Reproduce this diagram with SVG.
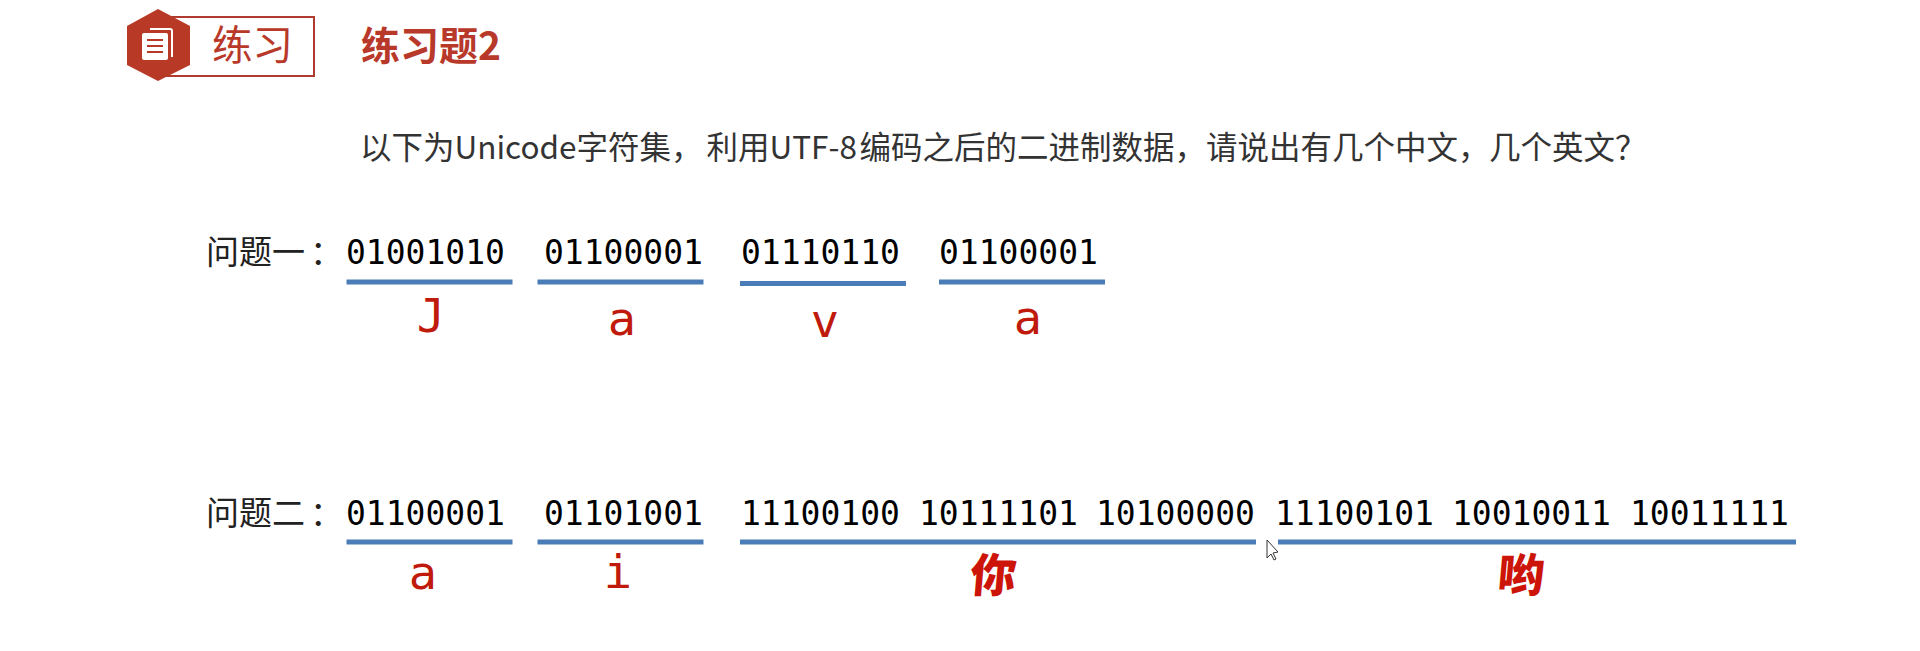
<svg xmlns="http://www.w3.org/2000/svg" width="1920" height="651" viewBox="0 0 1920 651">
<style>
.cn{font-family:"Noto Sans CJK SC","Noto Sans",sans-serif}
.bin{font-family:"DejaVu Sans Mono","Liberation Mono",monospace;font-size:33px;fill:#000}
.q{font-size:33px;fill:#222}
.ans{font-family:"DejaVu Sans Mono",monospace;font-size:47px;fill:#c01a0c;text-anchor:middle}
.brush{font-family:"Noto Sans CJK SC",sans-serif;font-weight:900;font-size:46px;fill:#cc1408;text-anchor:middle}
.bar{fill:#4a7db8}
</style>
<rect width="1920" height="651" fill="#fff"/>
<g id="badge">
<rect x="165" y="17" width="149" height="59" fill="#fff" stroke="#b03a2e" stroke-width="2"/>
<polygon points="158,9 190,26 190,65 158,81 127,65 127,26" fill="#b83a26"/>
<path d="M150 28h20a3 3 0 0 1 3 3v26h-2V31q0-1-1-1h-20z" fill="#fff"/>
<rect x="142" y="33" width="26" height="27" rx="2" fill="#fff"/>
<path d="M147 40h16M147 46h16M147 52h16" stroke="#b83a26" stroke-width="2" fill="none"/>
<text class="cn" x="212" y="60" font-size="40.5" fill="#b8392a">练习</text>
</g>
<g id="title"><text class="cn" x="361" y="60" font-size="39" font-weight="700" fill="#b8392a">练习题2</text></g>
<g id="prompt"><text class="cn" y="159" font-size="31.5" fill="#333"><tspan x="360">以下为Unicode字符集，</tspan><tspan x="706.5">利用UTF-8</tspan><tspan x="859.6">编码之后的二进制数据，</tspan><tspan x="1206">请说出有几个中文，</tspan><tspan x="1489">几个英文？</tspan></text></g>
<g id="q1">
<text class="cn q" x="206" y="264">问题一</text>
<text class="cn q" x="310" y="264">：</text>
<text class="bin" x="346" y="264">01001010</text>
<text class="bin" x="544" y="264">01100001</text>
<text class="bin" x="741" y="264">01110110</text>
<text class="bin" x="939" y="264">01100001</text>
</g>
<g id="a1">
<text class="ans" x="431" y="332">J</text>
<text class="ans" x="622" y="335">a</text>
<text class="ans" x="825" y="337">v</text>
<text class="ans" x="1028" y="334">a</text>
</g>
<g id="q2">
<text class="cn q" x="206" y="525">问题二</text>
<text class="cn q" x="310" y="525">：</text>
<text class="bin" x="346" y="525">01100001</text>
<text class="bin" x="544" y="525">01101001</text>
<text class="bin" x="741" y="525">11100100</text>
<text class="bin" x="919" y="525">10111101</text>
<text class="bin" x="1096" y="525">10100000</text>
<text class="bin" x="1275" y="525">11100101</text>
<text class="bin" x="1452" y="525">10010011</text>
<text class="bin" x="1630" y="525">10011111</text>
</g>
<g id="a2">
<text class="ans" x="423" y="589">a</text>
<text class="ans" x="618" y="588">i</text>
<text class="brush" transform="translate(992 592) skewX(-5)">你</text>
<text class="brush" transform="translate(1520 592) skewX(-5)">哟</text>
</g>
<g id="connectors">
<rect class="bar" x="346.5" y="279.5" width="166" height="5"/>
<rect class="bar" x="537.5" y="279.5" width="166" height="5"/>
<rect class="bar" x="740" y="281" width="166" height="5"/>
<rect class="bar" x="939" y="279.5" width="166" height="5"/>
<rect class="bar" x="346.5" y="539.5" width="166" height="5"/>
<rect class="bar" x="537.5" y="539.5" width="166" height="5"/>
<rect class="bar" x="740" y="539.5" width="516" height="5"/>
<rect class="bar" x="1278" y="539.5" width="518" height="5"/>
</g>
<g id="cursor"><polygon points="1267,540 1267,558 1271,554 1274,560 1276,559 1273,553 1278,552" fill="#fff" stroke="#333" stroke-width="1"/></g>
</svg>
